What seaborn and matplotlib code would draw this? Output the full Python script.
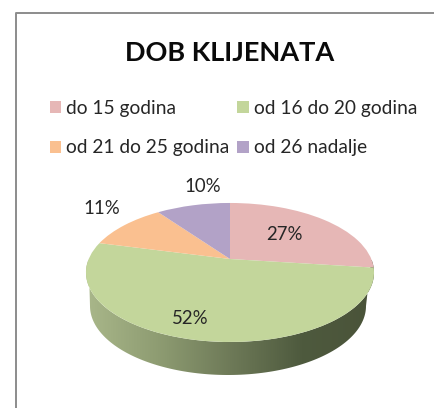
import numpy as np
import matplotlib
matplotlib.use("Agg")
import matplotlib.pyplot as plt
from matplotlib.colors import LinearSegmentedColormap
from matplotlib.patches import Polygon
from matplotlib.transforms import Transform
import seaborn as sns

title = "DOB KLIJENATA"
categories = ["do 15 godina", "od 16 do 20 godina", "od 21 do 25 godina", "od 26 nadalje"]
values = [27, 52, 11, 10]
slice_colors = ["#E6B7B6", "#C3D69B", "#FAC090", "#B2A2C7"]
side_colors = ["#A9B78A", "#8E9C72", "#6E7A58", "#4E5A3E", "#4A5339"]

sns.set_theme(style="white")
plt.rcParams["font.family"] = ["Lato", "DejaVu Sans"]
palette = sns.color_palette(slice_colors)

W, H = 435, 408
fig = plt.figure(figsize=(W / 100, H / 100), dpi=100, facecolor="white")
ax = fig.add_axes([0, 0, 1, 1])


class Tilt(Transform):
    """Perspective view of the unit pie, into pixel coordinates."""
    input_dims = output_dims = 2
    is_separable = False
    has_inverse = False

    def __init__(self, cx, cy, sx, sy, k):
        super().__init__()
        self.cx, self.cy, self.sx, self.sy, self.k = cx, cy, sx, sy, k

    def transform_non_affine(self, xy):
        xy = np.asarray(xy, dtype=float)
        w = 1 + self.k * xy[:, 1]
        return np.column_stack([self.cx + self.sx * xy[:, 0] / w,
                                self.cy - self.sy * xy[:, 1] / w])


tilt = Tilt(230, 259, 141.3, 66.9, 0.194)
wedges, _ = ax.pie(values, startangle=90, counterclock=False, colors=palette,
                   wedgeprops={"transform": tilt + ax.transData, "linewidth": 0})
ax.set_aspect("auto")
ax.set_xlim(0, W)
ax.set_ylim(H, 0)
ax.axis("off")

# side wall of the disc: horizontal gradient clipped to the rim
t = np.linspace(0, np.pi, 120)
unit = np.column_stack([np.cos(t), -np.sin(t)])
top_arc = tilt.transform_non_affine(unit)
low_arc = np.column_stack([228 + 138 * np.cos(t[::-1]), 306 + 69 * np.sin(t[::-1])])
rim = Polygon(np.vstack([top_arc, low_arc]), closed=True, transform=ax.transData,
              facecolor="none", edgecolor="none")
ax.add_patch(rim)
cmap = LinearSegmentedColormap.from_list("side", side_colors)
img = ax.imshow(np.linspace(0, 1, 256)[None, :], cmap=cmap, aspect="auto",
                extent=(86, 374, 378, 260), zorder=0.5)
img.set_clip_path(rim)
ax.set_xlim(0, W)
ax.set_ylim(H, 0)
for w in wedges:
    w.set_zorder(2)

# frame of the chart area, running off the picture at right and bottom
ax.plot([16, 16, W + 5], [H + 5, 13, 13], color="#8C8C8C", lw=1.4, zorder=3, clip_on=False)

ax.text(229.5, 53, title, ha="center", va="center", fontsize=19.5, fontweight="bold", color="#0A0A0A")

# matplotlib fills legend columns first; the reference reads row by row
order = [0, 2, 1, 3]
leg = ax.legend([wedges[i] for i in order], [categories[i] for i in order], ncols=2,
                loc="upper left", bbox_to_anchor=(50 / W, 1 - 100 / H),
                bbox_transform=fig.transFigure, frameon=False, fontsize=13.8,
                handlelength=0.58, handleheight=0.58, handletextpad=0.26,
                labelspacing=1.17, columnspacing=0.42, borderpad=0, borderaxespad=0,
                labelcolor="#262626")

pct_positions = [(284, 235), (190.5, 318), (101.5, 209), (202.5, 186)]
for v, (px, py) in zip(values, pct_positions):
    ax.text(px, py, f"{v}%", ha="center", va="center", fontsize=13.4, color="#262626", zorder=4)

fig.savefig("out.png", dpi=100, facecolor="white")
